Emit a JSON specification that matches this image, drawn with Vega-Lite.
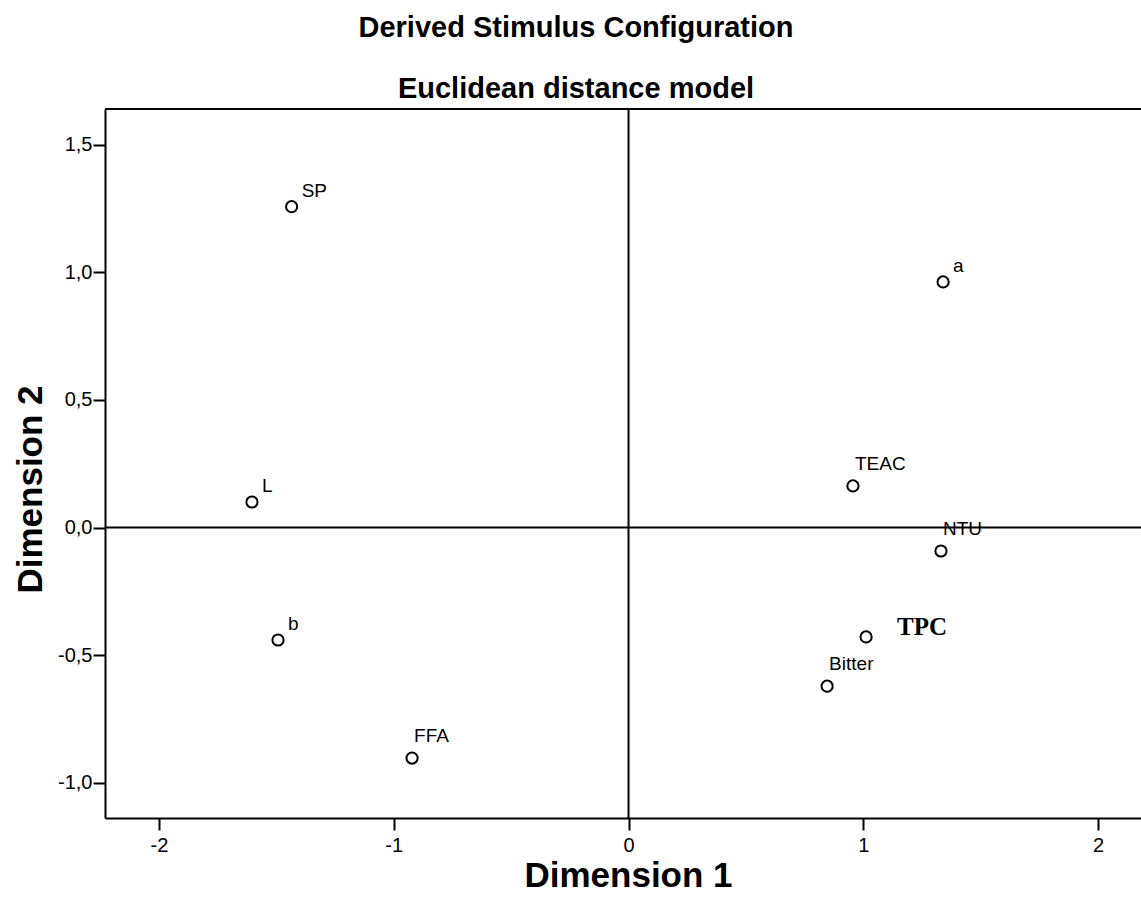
{
  "$schema": "https://vega.github.io/schema/vega-lite/v6.json",
  "autosize": {"type": "none"},
  "padding": {"left": 105, "top": 109, "right": 0, "bottom": 82},
  "width": 1036,
  "height": 709,
  "background": "white",
  "config": {
    "view": {"stroke": null},
    "font": "Liberation Sans",
    "axis": {"grid": false, "domainColor": "black", "domainWidth": 2, "tickColor": "black", "tickWidth": 2, "tickSize": 12, "labelColor": "black", "labelFont": "Liberation Sans", "labelFontSize": 20, "titleFont": "Liberation Sans", "titleFontSize": 35, "titleFontWeight": "bold", "titleColor": "black"}
  },
  "title": {
    "text": ["Derived Stimulus Configuration", "Euclidean distance model"],
    "fontSize": 29,
    "fontWeight": "bold",
    "font": "Liberation Sans",
    "color": "black",
    "lineHeight": 61,
    "anchor": "middle",
    "dx": -47,
    "offset": 4
  },
  "data": {
    "values": [
      {"label": "SP", "dim1": -1.435, "dim2": 1.258},
      {"label": "a", "dim1": 1.340, "dim2": 0.963},
      {"label": "L", "dim1": -1.604, "dim2": 0.100},
      {"label": "b", "dim1": -1.493, "dim2": -0.441},
      {"label": "FFA", "dim1": -0.922, "dim2": -0.904},
      {"label": "TEAC", "dim1": 0.956, "dim2": 0.163},
      {"label": "NTU", "dim1": 1.331, "dim2": -0.092},
      {"label": "TPC", "dim1": 1.012, "dim2": -0.429},
      {"label": "Bitter", "dim1": 0.846, "dim2": -0.622}
    ]
  },
  "layer": [
    {
      "mark": {"type": "point", "shape": "circle", "filled": false, "color": "black", "strokeWidth": 2, "size": 125, "opacity": 1},
      "encoding": {
        "x": {
          "field": "dim1", "type": "quantitative",
          "scale": {"domain": [-2.230, 2.183], "nice": false, "zero": false},
          "axis": {"values": [-2, -1, 0, 1, 2], "labelExpr": "'' + datum.value", "labelPadding": 5, "title": "Dimension 1", "titleX": 523, "titleY": 57, "titleBaseline": "middle", "titleAlign": "center"}
        },
        "y": {
          "field": "dim2", "type": "quantitative",
          "scale": {"domain": [-1.139, 1.641], "nice": false, "zero": false},
          "axis": {"values": [-1, -0.5, 0, 0.5, 1, 1.5], "labelExpr": "replace(replace(format(datum.value, '.1f'), '.', ','), '−', '-')", "labelPadding": 1, "title": "Dimension 2", "titleX": -75, "titleY": 380, "titleAngle": -90, "titleBaseline": "middle", "titleAlign": "center"}
        }
      }
    },
    {
      "data": {"values": [{"v": 0}]},
      "mark": {"type": "rule", "color": "black", "strokeWidth": 2},
      "encoding": {"x": {"field": "v", "type": "quantitative"}}
    },
    {
      "data": {"values": [{"v": 0}]},
      "mark": {"type": "rule", "color": "black", "strokeWidth": 2},
      "encoding": {"y": {"field": "v", "type": "quantitative"}}
    },
    {
      "data": {"values": [{"v": 1.641}]},
      "mark": {"type": "rule", "color": "black", "strokeWidth": 2},
      "encoding": {"y": {"field": "v", "type": "quantitative"}}
    },
    {
      "transform": [{"filter": {"field": "label", "oneOf": ["SP", "a", "L", "b"]}}],
      "mark": {"type": "text", "align": "left", "baseline": "middle", "dx": 10, "dy": -16, "fontSize": 19, "font": "Liberation Sans", "color": "black"},
      "encoding": {"x": {"field": "dim1", "type": "quantitative"}, "y": {"field": "dim2", "type": "quantitative"}, "text": {"field": "label"}}
    },
    {
      "transform": [{"filter": {"field": "label", "oneOf": ["FFA", "TEAC", "NTU", "Bitter"]}}],
      "mark": {"type": "text", "align": "left", "baseline": "middle", "dx": 2, "dy": -22, "fontSize": 19, "font": "Liberation Sans", "color": "black"},
      "encoding": {"x": {"field": "dim1", "type": "quantitative"}, "y": {"field": "dim2", "type": "quantitative"}, "text": {"field": "label"}}
    },
    {
      "transform": [{"filter": {"field": "label", "equal": "TPC"}}],
      "mark": {"type": "text", "align": "left", "baseline": "middle", "dx": 31, "dy": -10, "fontSize": 25, "font": "Liberation Serif", "fontWeight": "bold", "color": "black"},
      "encoding": {"x": {"field": "dim1", "type": "quantitative"}, "y": {"field": "dim2", "type": "quantitative"}, "text": {"field": "label"}}
    }
  ]
}
